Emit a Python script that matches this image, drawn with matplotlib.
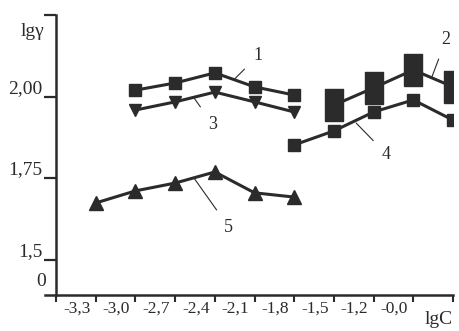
import matplotlib
matplotlib.use('Agg')
import matplotlib.pyplot as plt
from matplotlib.ticker import FixedLocator, NullFormatter

plt.rcParams['font.family'] = ['Liberation Serif', 'DejaVu Serif']

# positions are tick indices along the lgC axis
x_labels = ['-3,3', '-3,0', '-2,7', '-2,4', '-2,1', '-1,8', '-1,5', '-1,2', '-0,0']

x1 = [2, 3, 4, 5, 6]
y1 = [2.021, 2.043, 2.074, 2.031, 2.006]

x2 = [7, 8, 9, 10]
y2 = [1.975, 2.028, 2.083, 2.031]

x3 = [2, 3, 4, 5, 6]
y3 = [1.960, 1.985, 2.015, 1.985, 1.954]

x4 = [6, 7, 8, 9, 10]
y4 = [1.853, 1.896, 1.954, 1.991, 1.929]

x5 = [1, 2, 3, 4, 5, 6]
y5 = [1.675, 1.712, 1.736, 1.770, 1.706, 1.693]

y_ticks = [2.00, 1.75, 1.5]
y_ticklabels = ['2,00', '1,75', '1,5']

ink = '#2b2b2b'
tall = [(-0.55, -1), (0.55, -1), (0.55, 1), (-0.55, 1), (-0.55, -1)]

fig = plt.figure(figsize=(4.59, 3.31), dpi=100)
ax = fig.add_axes([45 / 459, 36 / 331, 408 / 459, 280 / 331])

ax.plot(x1, y1, color=ink, lw=2.2, marker='s', ms=8.5)
ax.plot(x3, y3, color=ink, lw=2.2, marker='v', ms=8)
ax.plot(x5, y5, color=ink, lw=2.2, marker='^', ms=10)
ax.plot(x4, y4, color=ink, lw=2.2, marker='s', ms=9)
ax.plot(x2, y2, color=ink, lw=2.2, marker=tall, ms=23)

ax.set_xlim(-0.28, 10)
ax.set_ylim(1.3926, 2.2515)

for s in ['top', 'right']:
    ax.spines[s].set_visible(False)
ax.spines['left'].set_position(('data', 0))
ax.spines['left'].set_linewidth(1.8)
ax.spines['bottom'].set_linewidth(1.8)
ax.spines['left'].set_color(ink)
ax.spines['bottom'].set_color(ink)

# x: ticks at integer positions, labels between them
ax.xaxis.set_major_locator(FixedLocator(range(0, 11)))
ax.xaxis.set_major_formatter(NullFormatter())
ax.xaxis.set_minor_locator(FixedLocator([i + 0.52 for i in range(len(x_labels))]))
ax.set_xticklabels(x_labels, minor=True)
ax.tick_params(axis='x', which='major', direction='out', length=5, width=1.5, color=ink)
ax.tick_params(axis='x', which='minor', length=0, pad=4, labelsize=12.5, labelcolor=ink)

# y: ticks pointing left, labels sitting above the tick
ax.set_yticks(y_ticks + [2.2515])
ax.set_yticklabels(y_ticklabels + [''])
ax.tick_params(axis='y', direction='out', length=9, width=1.6, color=ink, pad=1,
               labelsize=14, labelcolor=ink)
for lab in ax.get_yticklabels():
    lab.set_va('bottom')

ax.text(-0.25, 1.4325, '0', ha='right', va='center', fontsize=14, color=ink)
ax.text(-0.6, 2.2, 'lg\u03b3', ha='center', va='center', fontsize=14, color=ink)
ax.text(9.63, -0.088, 'lgC', transform=ax.get_xaxis_transform(), ha='center',
        va='center', fontsize=14, color=ink)

# curve numbers with leader lines
notes = [('1', (4.47, 2.052), (5.08, 2.126)),
         ('2', (9.47, 2.062), (9.82, 2.175)),
         ('3', (3.47, 1.998), (3.94, 1.917)),
         ('4', (7.56, 1.920), (8.32, 1.825)),
         ('5', (3.47, 1.752), (4.35, 1.601))]
for txt, xy, xyt in notes:
    ax.annotate(txt, xy=xy, xytext=xyt, ha='center', va='center', fontsize=13, color=ink,
                arrowprops=dict(arrowstyle='-', color=ink, lw=0.8, shrinkA=6, shrinkB=0))

fig.savefig('out.png', dpi=100, facecolor='white')
